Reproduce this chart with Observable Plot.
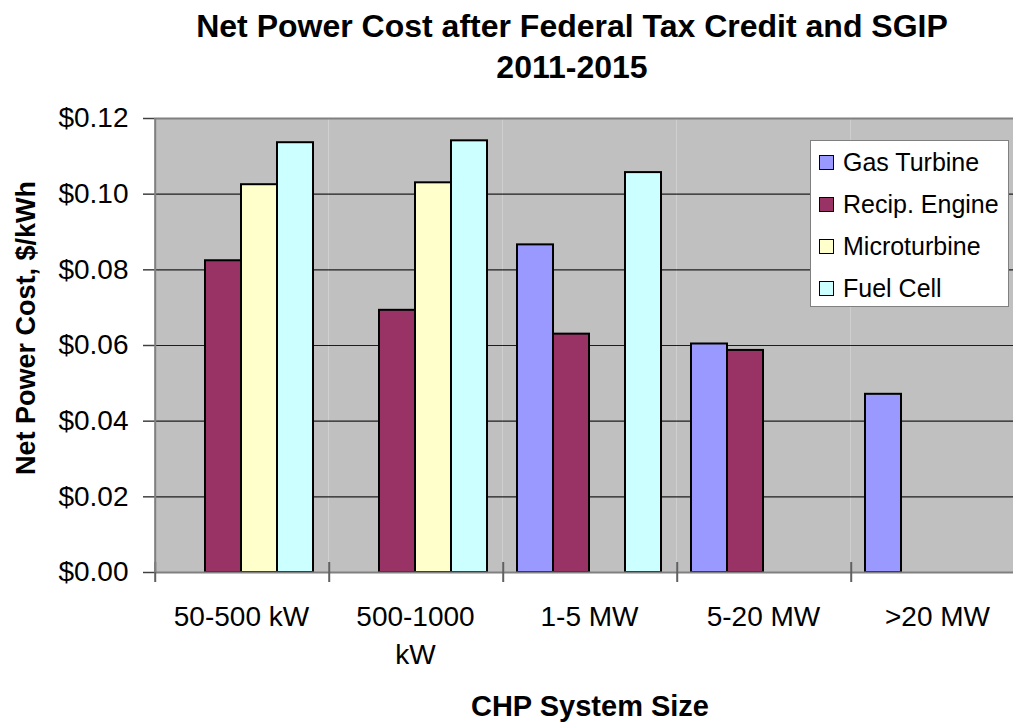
<!DOCTYPE html>
<html>
<head>
<meta charset="utf-8">
<script src="https://cdn.jsdelivr.net/npm/d3@7"></script>
<script src="https://cdn.jsdelivr.net/npm/@observablehq/plot@0.6"></script>
<style>
  html, body { margin: 0; padding: 0; background: #fff; }
  #wrap { position: relative; width: 1013px; height: 723px; overflow: hidden; font-family: "Liberation Sans", Arial, sans-serif; }
  #chart { position: absolute; left: 0; top: 0; width: 1024px; }
  #chart svg { max-width: none !important; }
  .ov { position: absolute; white-space: nowrap; color: #000; }
  #title { left: 572px; top: 6px; transform: translateX(-50%); font-weight: bold; font-size: 32px; line-height: 41px; text-align: center; }
  #ytitle { left: 26px; top: 328px; transform: translate(-50%, -50%) rotate(-90deg); font-weight: bold; font-size: 27px; }
  #xtitle { left: 590px; top: 706px; transform: translate(-50%, -50%); font-weight: bold; font-size: 29px; }
  #legend { left: 810px; top: 140px; width: 197px; height: 165px; background: #fff; border: 1.5px solid #808080; }
  .lrow { position: absolute; left: 8px; height: 42px; display: flex; align-items: center; font-size: 25px; }
  .sw { width: 13px; height: 13px; border: 1.5px solid #000; margin-right: 9px; }
</style>
</head>
<body>
<div id="wrap">
  <div id="chart"></div>
  <div id="title" class="ov">Net Power Cost after Federal Tax Credit and SGIP<br>2011-2015</div>
  <div id="ytitle" class="ov">Net Power Cost, $/kWh</div>
  <div id="xtitle" class="ov">CHP System Size</div>
  <div id="legend" class="ov"></div>
</div>
<script>
// ---- Data ----
const categories = ["50-500 kW", "500-1000 kW", "1-5 MW", "5-20 MW", ">20 MW"];
const series = ["Gas Turbine", "Recip. Engine", "Microturbine", "Fuel Cell"];
const gasTurbine   = [null,   null,   0.0866, 0.0604, 0.0471];
const recipEngine  = [0.0824, 0.0693, 0.0630, 0.0587, null];
const microturbine = [0.1025, 0.1030, null,   null,   null];
const fuelCell     = [0.1136, 0.1141, 0.1057, null,   null];
const yTicks = [0, 0.02, 0.04, 0.06, 0.08, 0.10, 0.12];
const colors = ["#9999FF", "#993366", "#FFFFCC", "#CCFFFF"];

const seriesValues = [gasTurbine, recipEngine, microturbine, fuelCell];
const data = [];
categories.forEach((c, ci) => {
  series.forEach((s, si) => {
    const v = seriesValues[si][ci];
    if (v != null) data.push({category: c, series: s, value: v});
  });
});

// ---- Layout ----
const W = 1024, H = 723, ML = 154, MT = 118, MB = 151;
const padOuter = 0.385;
const catW = (W - ML) / categories.length;
const step = catW / (series.length + 2 * padOuter);
const firstCenter = padOuter * step + step / 2;
const frameH = H - MT - MB;

const chart = Plot.plot({
  width: W,
  height: H,
  marginLeft: ML,
  marginRight: 0,
  marginTop: MT,
  marginBottom: MB,
  style: {fontFamily: "Liberation Sans, Arial, sans-serif", background: "transparent", overflow: "visible", maxWidth: "none"},
  fx: {domain: categories, padding: 0, label: null},
  x: {domain: series, paddingInner: 0, paddingOuter: padOuter, axis: null},
  y: {domain: [0, 0.12], label: null},
  color: {domain: series, range: colors},
  marks: [
    Plot.frame({fill: "#C0C0C0", stroke: null}),
    Plot.gridY(yTicks.filter(t => t > 0 && t < 0.12), {stroke: "#000", strokeOpacity: 0.85, strokeWidth: 1.2}),
    Plot.ruleY([0.12], {stroke: "#808080", strokeWidth: 2}),
    Plot.barY(data, {fx: "category", x: "series", y: "value", fill: "series", stroke: "#000", strokeWidth: 2}),
    Plot.ruleY([0], {stroke: "#808080", strokeWidth: 2}),
    // category boundary ticks crossing the x axis
    Plot.ruleX(categories, {fx: d => d, x: () => series[0], dx: -firstCenter, stroke: "#606060", strokeWidth: 2, insetTop: frameH - 10, insetBottom: -10}),
    // left axis line
    Plot.ruleX([categories[0]], {fx: d => d, x: () => series[0], dx: -firstCenter, stroke: "#808080", strokeWidth: 2}),
    Plot.axisY({ticks: yTicks, tickSize: 11, tickPadding: 15, tickFormat: d => "$" + d.toFixed(2), fontSize: 28, stroke: "#404040", strokeWidth: 1.5, label: null}),
    Plot.axisFx({anchor: "bottom", tickSize: 0, tickPadding: 27, fontSize: 28, lineWidth: 5.5, lineHeight: 1.35, label: null})
  ]
});
document.getElementById("chart").appendChild(chart);

// ---- Legend ----
const legend = document.getElementById("legend");
series.forEach((s, i) => {
  const row = document.createElement("div");
  row.className = "lrow";
  row.style.top = (i * 42) + "px";
  const sw = document.createElement("div");
  sw.className = "sw";
  sw.style.background = colors[i];
  const t = document.createElement("span");
  t.textContent = s;
  row.appendChild(sw);
  row.appendChild(t);
  legend.appendChild(row);
});
</script>
</body>
</html>
